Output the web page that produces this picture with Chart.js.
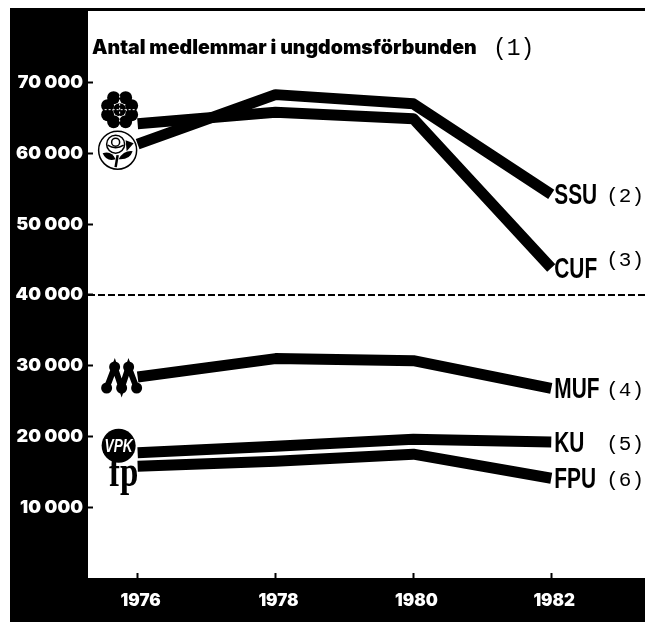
<!DOCTYPE html>
<html>
<head>
<meta charset="utf-8">
<style>
html,body{margin:0;padding:0;background:#fff;}
canvas{display:block;}
</style>
<script src="https://cdn.jsdelivr.net/npm/chart.js@4/dist/chart.umd.min.js"></script>
</head>
<body>
<canvas id="chart" width="645" height="631"></canvas>
<script>
const years = [1976,1978,1980,1982];
const yTickValues = [10000,20000,30000,40000,50000,60000,70000];
const yTickLabels = ["10 000","20 000","30 000","40 000","50 000","60 000","70 000"];

const seriesNames = ["SSU","CUF","MUF","KU","FPU"];
const seriesNotes = ["(2)","(3)","(4)","(5)","(6)"];
const ssu = [61300,68300,67000,54200];
const cuf = [64200,65800,64900,43800];
const muf = [28400,31000,30700,26800];
const ku  = [17700,18600,19600,19200];
const fpu = [15800,16500,17500,14100];
const allSeries = [ssu,cuf,muf,ku,fpu];

const refValue = 40000;
const titleText = "Antal medlemmar i ungdomsförbunden";
const titleNote = "(1)";

function toPoints(values){
  return values.map(function(v,i){ return {x:years[i],y:v}; });
}

/* black frame behind the axes */
const framePlugin = {
  id:"frame",
  beforeDraw:function(chart){
    const c = chart.ctx, a = chart.chartArea;
    c.save();
    c.fillStyle = "#000";
    c.fillRect(10,8,a.left-10,614);
    c.fillRect(10,a.bottom,635,622-a.bottom);
    c.fillRect(a.left,8,645-a.left,3);
    c.restore();
  }
};

/* text squeezed sideways, no narrow font is installed */
function narrowText(c,text,x,y,sx){
  c.save();
  c.translate(x,y);
  c.scale(sx,1);
  c.fillText(text,0,0);
  c.restore();
}

function drawClover(c,x,y){
  c.fillStyle = "#000";
  [[-6,-12],[6,-12],[-12,-4],[12,-4],[-12,5],[12,5],[-6,12],[6,12],[0,0]].forEach(function(p){
    c.beginPath();
    c.arc(x+p[0],y+p[1],6.5,0,Math.PI*2);
    c.fill();
  });
  c.strokeStyle = "#fff";
  c.lineWidth = 1;
  c.setLineDash([2,2]);
  c.beginPath();
  c.moveTo(x-15,y); c.lineTo(x+15,y);
  c.moveTo(x,y-14); c.lineTo(x,y+14);
  c.stroke();
  c.setLineDash([]);
}

function drawRose(c,x,y){
  c.fillStyle = "#fff";
  c.strokeStyle = "#000";
  c.lineWidth = 1.5;
  c.beginPath(); c.arc(x,y,19,0,Math.PI*2); c.fill(); c.stroke();
  c.fillStyle = "#000";
  c.beginPath();
  c.moveTo(x-15,y+3); c.quadraticCurveTo(x-6,y,x-2,y+9); c.quadraticCurveTo(x-11,y+12,x-15,y+3);
  c.fill();
  c.beginPath();
  c.moveTo(x+15,y+1); c.quadraticCurveTo(x+12,y+10,x+1,y+9); c.quadraticCurveTo(x+6,y,x+15,y+1);
  c.fill();
  c.beginPath();
  c.moveTo(x+8,y-10); c.lineTo(x+16,y-7); c.lineTo(x+9,y+1); c.closePath();
  c.fill();
  c.lineWidth = 2.5;
  c.beginPath(); c.moveTo(x,y+5); c.lineTo(x-2,y+17); c.stroke();
  c.lineWidth = 1.5;
  c.fillStyle = "#fff";
  c.beginPath(); c.arc(x-2,y-6,9,0,Math.PI*2); c.fill(); c.stroke();
  c.beginPath(); c.arc(x-2,y-8,4,0,Math.PI*2); c.stroke();
  c.beginPath(); c.moveTo(x-10,y-5); c.quadraticCurveTo(x-2,y,x+6,y-5); c.stroke();
}

function drawM(c,x,y){
  c.fillStyle = "#000";
  c.strokeStyle = "#000";
  c.lineWidth = 6;
  c.beginPath();
  c.moveTo(x-15,y+12); c.lineTo(x-7,y-9); c.lineTo(x,y+12);
  c.lineTo(x+7,y-9); c.lineTo(x+15,y+12);
  c.stroke();
  [[-15,12],[0,12],[15,12],[-7,-9],[7,-9]].forEach(function(p){
    c.beginPath();
    c.arc(x+p[0],y+p[1],5.5,0,Math.PI*2);
    c.fill();
  });
}

function drawVpk(c,x,y){
  c.fillStyle = "#000";
  c.beginPath(); c.arc(x,y,17,0,Math.PI*2); c.fill();
  c.fillStyle = "#fff";
  c.font = "italic bold 19px 'Liberation Sans'";
  c.textAlign = "center";
  c.textBaseline = "middle";
  narrowText(c,"VPK",x,y+1,0.72);
}

function drawFp(c,x,y){
  c.fillStyle = "#000";
  c.font = "bold 44px 'Liberation Serif'";
  c.textAlign = "center";
  c.textBaseline = "middle";
  narrowText(c,"fp",x,y,0.75);
}

/* party logos sit left of where each line starts, labels right of where it ends */
const marksPlugin = {
  id:"marks",
  afterDatasetsDraw:function(chart){
    const c = chart.ctx, xs = chart.scales.x, ys = chart.scales.y, a = chart.chartArea;
    const startX = xs.getPixelForValue(years[0]);
    const endX = xs.getPixelForValue(years[years.length-1]);
    c.save();

    drawClover(c,startX-18,ys.getPixelForValue(cuf[0])-14);
    drawRose(c,startX-20,ys.getPixelForValue(ssu[0])+6);
    drawM(c,startX-16,ys.getPixelForValue(muf[0])-1);
    drawFp(c,startX-14,ys.getPixelForValue(fpu[0])+8);
    drawVpk(c,startX-19,ys.getPixelForValue(ku[0])-7);

    c.textBaseline = "middle";
    c.textAlign = "left";
    seriesNames.forEach(function(name,i){
      const vals = allSeries[i];
      const y = ys.getPixelForValue(vals[vals.length-1]);
      c.fillStyle = "#000";
      c.font = "bold 29px 'Liberation Sans'";
      narrowText(c,name,endX+3,y+2,0.72);
      c.font = "21px 'Liberation Mono'";
      c.fillText(seriesNotes[i],endX+55,name==="CUF" ? y-8 : y+2);
    });

    c.font = "900 19.5px Inter";
    c.fillText(titleText,a.left+4,48,385);
    c.font = "23px 'Liberation Mono'";
    c.fillText(titleNote,493,49);
    c.restore();
  }
};

const datasets = allSeries.map(function(values,i){
  return {
    label:seriesNames[i],
    data:toPoints(values),
    borderColor:"#000",
    borderWidth:11,
    borderCapStyle:"butt",
    borderJoinStyle:"round",
    pointRadius:0,
    tension:0
  };
});

const xMin = 1975.28;
const xMax = 1983.36;

datasets.push({
  label:"ref",
  data:[{x:xMin,y:refValue},{x:xMax,y:refValue}],
  borderColor:"#000",
  borderWidth:2,
  borderDash:[7,3],
  pointRadius:0
});

new Chart(document.getElementById("chart"),{
  type:"line",
  data:{datasets:datasets},
  plugins:[framePlugin,marksPlugin],
  options:{
    responsive:false,
    animation:false,
    layout:{autoPadding:false,padding:{left:10,top:11,right:0,bottom:9}},
    plugins:{legend:{display:false},tooltip:{enabled:false},title:{display:false}},
    scales:{
      x:{
        type:"linear",
        min:xMin,
        max:xMax,
        afterBuildTicks:function(s){ s.ticks = years.map(function(v){ return {value:v}; }); },
        afterFit:function(s){ s.height = 44; },
        grid:{drawOnChartArea:false,tickLength:-5,tickColor:"#000",tickWidth:2},
        border:{display:false},
        ticks:{
          color:"#fff",
          font:{family:"Inter",weight:"900",size:17},
          padding:18,
          maxRotation:0,
          labelOffset:3,
          callback:function(v){ return String(v); }
        }
      },
      y:{
        min:0,
        max:78732,
        afterBuildTicks:function(s){ s.ticks = yTickValues.map(function(v){ return {value:v}; }); },
        afterFit:function(s){ s.width = 78; },
        grid:{drawOnChartArea:false,tickLength:-5,tickColor:"#000",tickWidth:2},
        border:{display:false},
        ticks:{
          color:"#fff",
          font:{family:"Inter",weight:"900",size:18},
          padding:10,
          callback:function(v,i){ return yTickLabels[i]; }
        }
      }
    }
  }
});
</script>
</body>
</html>
